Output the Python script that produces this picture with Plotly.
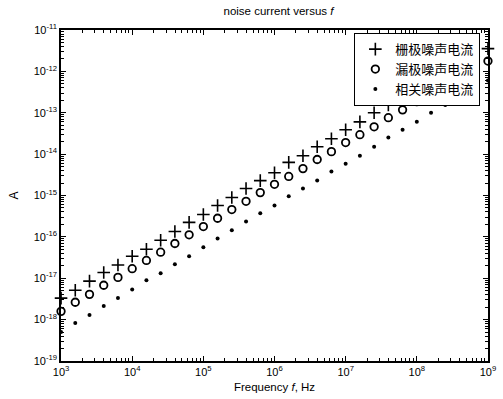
import numpy as np
import plotly.graph_objects as go

# log10 of frequency (Hz)
freq_exp = [3.0, 3.2, 3.4, 3.6, 3.8, 4.0, 4.2, 4.4, 4.6, 4.8, 5.0, 5.2, 5.4, 5.6, 5.8,
            6.0, 6.2, 6.4, 6.6, 6.8, 7.0, 7.2, 7.4, 7.6, 7.8, 8.0, 8.2, 8.4, 8.6, 8.8, 9.0]

# log10 of current (A)
gate_log = [-17.48, -17.29, -17.07, -16.86, -16.68, -16.47, -16.30, -16.08, -15.87, -15.65,
            -15.46, -15.24, -15.05, -14.83, -14.64, -14.45, -14.20, -14.04, -13.82, -13.63,
            -13.41, -13.22, -13.00, -12.81, -12.61, -12.42, -12.22, -12.03, -11.83, -11.64, -11.45]
drain_log = [-17.80, -17.58, -17.39, -17.17, -16.98, -16.77, -16.57, -16.37, -16.16, -15.95,
             -15.75, -15.55, -15.34, -15.14, -14.93, -14.73, -14.54, -14.35, -14.13, -13.94,
             -13.72, -13.53, -13.34, -13.12, -12.93, -12.73, -12.52, -12.35, -12.13, -11.94, -11.75]
corr_log = [-18.30, -18.08, -17.89, -17.67, -17.48, -17.27, -17.05, -16.88, -16.66, -16.47,
            -16.25, -16.04, -15.84, -15.63, -15.43, -15.24, -15.02, -14.83, -14.64, -14.42,
            -14.23, -14.04, -13.82, -13.60, -13.41, -13.22, -13.00, -12.81, -12.61, -12.42, -12.22]

names = ["栅极噪声电流", "漏极噪声电流", "相关噪声电流"]

x_tickvals = [1e3, 1e4, 1e5, 1e6, 1e7, 1e8, 1e9]
x_ticktext = ["10<sup>3</sup>", "10<sup>4</sup>", "10<sup>5</sup>", "10<sup>6</sup>",
              "10<sup>7</sup>", "10<sup>8</sup>", "10<sup>9</sup>"]
y_exps = [-19, -18, -17, -16, -15, -14, -13, -12, -11]
y_tickvals = [10.0 ** e for e in y_exps]
y_ticktext = ["10<sup>%d</sup>" % e for e in y_exps]

freq = 10.0 ** np.array(freq_exp)
gate = 10.0 ** np.array(gate_log)
drain = 10.0 ** np.array(drain_log)
corr = 10.0 ** np.array(corr_log)

fig = go.Figure()
fig.add_trace(go.Scatter(x=freq, y=gate, mode="markers", name=names[0], cliponaxis=False,
                         marker=dict(symbol="cross-thin", size=9, color="black",
                                     line=dict(color="black", width=1.6))))
fig.add_trace(go.Scatter(x=freq, y=drain, mode="markers", name=names[1], cliponaxis=False,
                         marker=dict(symbol="circle-open", size=7.5, color="black",
                                     line=dict(color="black", width=1.8))))
fig.add_trace(go.Scatter(x=freq, y=corr, mode="markers", name=names[2], cliponaxis=False,
                         marker=dict(symbol="circle", size=4, color="black")))

minor_x = [m * 10.0 ** d for d in range(3, 9) for m in range(2, 10)]
minor_y = [m * 10.0 ** d for d in range(-19, -11) for m in range(2, 10)]

axis_common = dict(showline=True, linecolor="black", linewidth=1.6, mirror="ticks",
                   ticks="inside", ticklen=5, tickwidth=1, tickcolor="black",
                   showgrid=False, zeroline=False,
                   tickfont=dict(family="Liberation Sans, Arial", size=11, color="black"))

fig.update_layout(
    width=503, height=399,
    margin=dict(l=61, r=7, t=30, b=37),
    paper_bgcolor="white", plot_bgcolor="white",
    font=dict(family="Liberation Sans, Arial", color="black"),
    title=dict(text="noise current versus <i>f</i>", x=(61 + 496) / 2 / 503, xanchor="center",
               y=1 - 11 / 399, yanchor="middle", font=dict(size=11.5)),
    xaxis=dict(type="log", range=[2.9995, 9.0005], tickvals=x_tickvals, ticktext=x_ticktext,
               title=dict(text="Frequency <i>f</i>, Hz", font=dict(size=11.5), standoff=6),
               minor=dict(tickvals=minor_x, ticks="inside", ticklen=3, tickcolor="black"),
               **axis_common),
    yaxis=dict(type="log", range=[-19.0005, -10.9995], tickvals=y_tickvals, ticktext=y_ticktext,
               title=dict(text="A", font=dict(size=12), standoff=12),
               minor=dict(tickvals=minor_y, ticks="inside", ticklen=3, tickcolor="black"),
               **axis_common),
    legend=dict(x=(488 - 61) / 435, xanchor="right", y=(362 - 33) / 332, yanchor="top",
                bgcolor="white", bordercolor="black", borderwidth=1.2,
                font=dict(family="Noto Sans CJK SC", size=13, color="black"),
                tracegroupgap=0, itemwidth=30),
    showlegend=True,
)

fig.write_html("out.html")
